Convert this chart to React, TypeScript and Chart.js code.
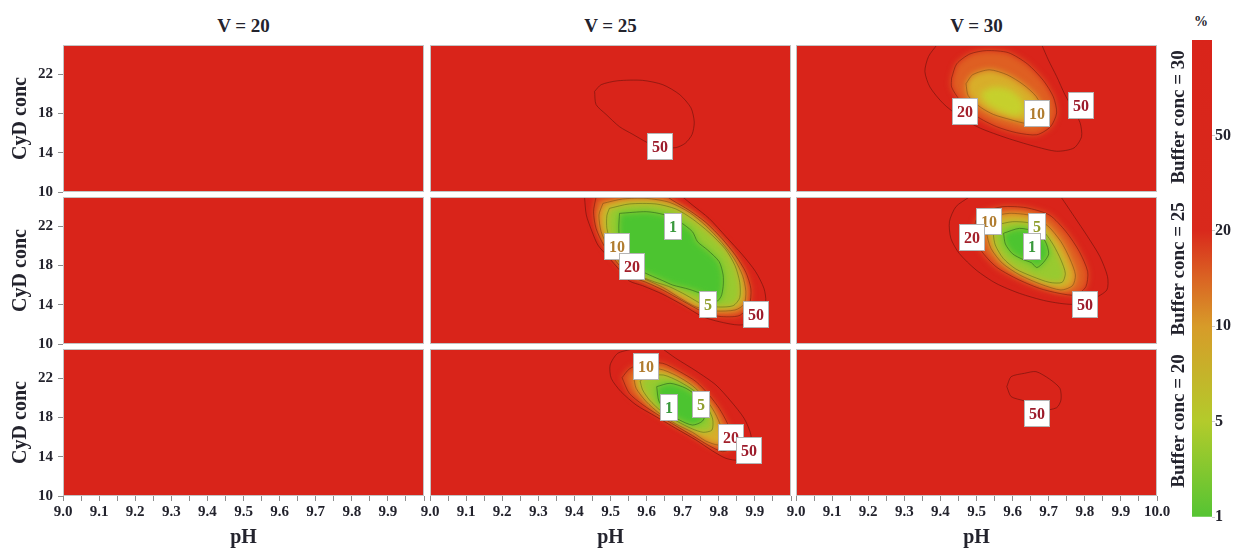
import React, { useEffect, useRef } from 'react';
import { Chart, registerables } from 'chart.js';

Chart.register(...registerables);

// ---------------- data ----------------
const COLUMN_TITLES = ['V = 20', 'V = 25', 'V = 30'];
const ROW_TITLES = ['Buffer conc = 30', 'Buffer conc = 25', 'Buffer conc = 20'];
const X_LABEL = 'pH';
const Y_LABEL = 'CyD conc';
const PH_MIN = 9.0;
const PH_MAX = 10.0;
const CONC_MIN = 10;
const CONC_MAX = 25;
const X_MAJOR_TICKS = [9.0, 9.1, 9.2, 9.3, 9.4, 9.5, 9.6, 9.7, 9.8, 9.9, 10.0];
const Y_TICKS = [10, 14, 18, 22];
const COLORBAR_TICKS = ['1', '5', '10', '20', '50'];
const COLORBAR_STEPS = 5;
const COLORBAR_UNIT = '%';

// Buffer conc = 30, V = 25
const B30_V25_C50 = [[9.456, 20.27], [9.474, 20.95], [9.52, 21.35], [9.589, 21.39], [9.645, 20.95], [9.692, 19.93], [9.723, 18.58], [9.732, 17.13], [9.726, 15.88], [9.707, 14.97], [9.681, 14.53], [9.635, 14.53], [9.599, 15.1], [9.562, 15.88], [9.525, 16.66], [9.488, 17.91], [9.46, 18.92]];
const B30_V25_LABELS: [number, number, string][] = [[9.638, 14.63, '50']];

// Buffer conc = 30, V = 30
const B30_V30_C50 = [[9.39, 25], [9.367, 23.82], [9.357, 22.3], [9.371, 20.71], [9.408, 19.02], [9.454, 17.67], [9.51, 16.52], [9.584, 15.51], [9.657, 14.7], [9.722, 14.16], [9.77, 14.49], [9.791, 15.64], [9.787, 17.06], [9.768, 18.41], [9.745, 19.93], [9.722, 21.79], [9.699, 23.48], [9.681, 25]];
const B30_V30_C20 = [[9.431, 21.62], [9.445, 23.07], [9.482, 24.09], [9.528, 24.43], [9.588, 24.22], [9.641, 23.07], [9.685, 21.39], [9.713, 19.7], [9.722, 18.07], [9.705, 16.66], [9.667, 15.84], [9.611, 16.05], [9.556, 16.66], [9.5, 17.74], [9.454, 19.36], [9.431, 20.71]];
const B30_V30_C10 = [[9.471, 21.05], [9.489, 21.96], [9.536, 22.47], [9.585, 21.96], [9.63, 20.95], [9.665, 19.76], [9.685, 18.24], [9.676, 17.23], [9.639, 16.99], [9.593, 17.4], [9.547, 17.91], [9.51, 18.68], [9.477, 19.83]];
const B30_V30_CORE = [[9.51, 20.1], [9.547, 20.71], [9.593, 20.44], [9.625, 19.43], [9.634, 18.24], [9.607, 17.74], [9.565, 18.24], [9.528, 19.02]];
const B30_V30_LABELS: [number, number, string][] = [[9.468, 18.14, '20'], [9.667, 18.01, '10'], [9.789, 18.82, '50']];

// Buffer conc = 25, V = 25
const B25_V25_C50 = [[9.428, 25], [9.433, 23.16], [9.449, 21.46], [9.465, 20.1], [9.493, 18.91], [9.525, 17.55], [9.552, 16.43], [9.589, 15.95], [9.645, 15.07], [9.7, 13.98], [9.755, 12.79], [9.801, 12.28], [9.856, 11.94], [9.912, 12.35], [9.93, 14.32], [9.925, 15.68], [9.902, 17.38], [9.866, 19.08], [9.82, 20.95], [9.773, 22.82], [9.727, 24.18], [9.7, 25]];
const B25_V25_C20 = [[9.46, 25], [9.453, 23.5], [9.46, 21.8], [9.481, 20.1], [9.516, 18.4], [9.552, 16.97], [9.599, 16.29], [9.645, 15.51], [9.7, 14.39], [9.755, 13.3], [9.801, 12.82], [9.856, 12.89], [9.884, 13.91], [9.889, 15.61], [9.875, 17.31], [9.847, 19.01], [9.81, 20.71], [9.764, 22.41], [9.718, 23.64], [9.672, 24.66], [9.658, 25]];
const B25_V25_C10 = [[9.479, 24.35], [9.534, 24.8], [9.599, 24.86], [9.663, 24.46], [9.718, 23.44], [9.764, 22.07], [9.808, 20.37], [9.843, 18.67], [9.866, 16.97], [9.875, 15.34], [9.87, 14.05], [9.845, 13.47], [9.792, 13.37], [9.737, 13.78], [9.691, 14.73], [9.645, 15.78], [9.599, 16.56], [9.552, 17.31], [9.52, 18.57], [9.493, 19.93], [9.474, 21.46], [9.468, 23.16]];
const B25_V25_C5 = [[9.497, 23.84], [9.552, 24.29], [9.626, 24.29], [9.681, 23.78], [9.727, 22.76], [9.773, 21.39], [9.818, 19.69], [9.845, 17.99], [9.858, 16.29], [9.858, 14.73], [9.84, 13.91], [9.799, 13.78], [9.755, 14.05], [9.709, 15.0], [9.663, 15.85], [9.626, 16.29], [9.589, 16.8], [9.552, 17.45], [9.523, 18.81], [9.502, 20.27], [9.49, 21.8], [9.49, 23.1]];
const B25_V25_C1 = [[9.525, 23.33], [9.599, 23.5], [9.645, 23.23], [9.691, 22.48], [9.727, 21.46], [9.741, 20.44], [9.769, 19.59], [9.801, 18.4], [9.812, 17.04], [9.812, 15.85], [9.806, 14.83], [9.79, 14.25], [9.755, 15.07], [9.718, 15.58], [9.672, 16.02], [9.645, 16.46], [9.608, 17.04], [9.58, 17.55], [9.552, 18.23], [9.539, 18.91], [9.527, 19.83], [9.523, 21.8]];
const B25_V25_LABELS: [number, number, string][] = [[9.672, 21.97, '1'], [9.519, 19.93, '10'], [9.559, 17.89, '20'], [9.769, 13.98, '5'], [9.904, 12.96, '50']];

// Buffer conc = 25, V = 30
const B25_V30_C50 = [[9.48, 25], [9.443, 24.01], [9.425, 22.48], [9.429, 20.78], [9.452, 19.25], [9.499, 17.55], [9.554, 16.19], [9.619, 15.17], [9.693, 14.39], [9.766, 14.05], [9.822, 14.59], [9.861, 15.51], [9.863, 16.87], [9.842, 18.91], [9.808, 20.95], [9.771, 22.99], [9.743, 24.52], [9.734, 25]];
const B25_V30_C20 = [[9.517, 23.5], [9.572, 24.01], [9.637, 23.91], [9.702, 23.16], [9.748, 21.46], [9.785, 19.42], [9.808, 17.38], [9.803, 15.85], [9.776, 15.0], [9.729, 15.17], [9.674, 15.68], [9.609, 16.7], [9.554, 17.89], [9.512, 19.59], [9.494, 21.46], [9.499, 22.65]];
const B25_V30_C10 = [[9.536, 22.99], [9.591, 23.33], [9.651, 23.1], [9.697, 22.07], [9.734, 20.44], [9.759, 18.67], [9.774, 17.04], [9.766, 15.95], [9.734, 15.51], [9.679, 16.09], [9.62, 17.04], [9.572, 18.23], [9.54, 19.76], [9.528, 21.46]];
const B25_V30_C5 = [[9.554, 22.14], [9.6, 22.48], [9.651, 22.31], [9.688, 21.39], [9.713, 20.1], [9.734, 18.57], [9.746, 17.21], [9.737, 16.29], [9.702, 16.29], [9.656, 16.87], [9.609, 17.65], [9.574, 18.74], [9.552, 20.1], [9.547, 21.29]];
const B25_V30_C1 = [[9.575, 21.3], [9.619, 21.8], [9.662, 21.45], [9.69, 20.5], [9.7, 19.2], [9.685, 18.3], [9.667, 17.8], [9.652, 18.3], [9.63, 18.6], [9.6, 19.2], [9.58, 20.2]];
const B25_V30_LABELS: [number, number, string][] = [[9.536, 22.48, '10'], [9.487, 20.78, '20'], [9.668, 21.9, '5'], [9.653, 19.93, '1'], [9.801, 13.95, '50']];

// Buffer conc = 20, V = 25
const B20_V25_C50 = [[9.562, 25], [9.52, 24.56], [9.499, 23.37], [9.502, 22.01], [9.529, 20.65], [9.571, 19.29], [9.626, 18.1], [9.681, 16.9], [9.737, 15.71], [9.783, 14.59], [9.82, 13.84], [9.856, 13.67], [9.886, 14.46], [9.889, 16.22], [9.87, 17.93], [9.833, 19.69], [9.792, 21.33], [9.737, 22.76], [9.681, 24.05], [9.645, 25]];
const B20_V25_C20 = [[9.532, 22.07], [9.552, 22.96], [9.589, 23.54], [9.645, 23.54], [9.692, 22.69], [9.737, 21.67], [9.773, 20.31], [9.801, 18.95], [9.824, 17.41], [9.838, 15.88], [9.833, 14.86], [9.81, 14.52], [9.773, 15.14], [9.727, 16.16], [9.681, 17.17], [9.635, 18.2], [9.589, 19.32], [9.552, 20.48]];
const B20_V25_C10 = [[9.564, 22.18], [9.585, 22.62], [9.635, 22.96], [9.683, 22.28], [9.727, 21.26], [9.764, 19.9], [9.79, 18.44], [9.808, 16.9], [9.816, 15.61], [9.799, 15.2], [9.764, 15.61], [9.727, 16.5], [9.681, 17.35], [9.635, 18.44], [9.599, 19.63], [9.571, 20.99]];
const B20_V25_C5 = [[9.582, 21.73], [9.6, 22.18], [9.646, 22.35], [9.691, 21.67], [9.737, 20.58], [9.766, 19.22], [9.783, 17.86], [9.781, 16.73], [9.757, 16.5], [9.727, 16.84], [9.683, 17.65], [9.64, 18.67], [9.608, 19.8], [9.589, 20.82]];
const B20_V25_C1 = [[9.628, 21.16], [9.665, 21.5], [9.709, 20.99], [9.746, 19.97], [9.764, 18.67], [9.755, 17.65], [9.727, 17.24], [9.691, 17.76], [9.656, 18.61], [9.634, 19.69]];
const B20_V25_LABELS: [number, number, string][] = [[9.597, 23.16, '10'], [9.663, 18.95, '1'], [9.751, 19.29, '5'], [9.835, 15.95, '20'], [9.884, 14.63, '50']];

// Buffer conc = 20, V = 30
const B20_V30_C50 = [[9.584, 21.16], [9.596, 22.18], [9.633, 22.52], [9.665, 22.69], [9.702, 21.94], [9.731, 20.99], [9.734, 19.8], [9.722, 19.01], [9.683, 18.78], [9.633, 19.69], [9.596, 20.14]];
const B20_V30_LABELS: [number, number, string][] = [[9.667, 18.33, '50']];

// ---------------- styling ----------------
const FONT = "'Liberation Serif', 'Times New Roman', serif";
const TEXT = '#23232d';
const RED = '#d9241a';
const FILL_COLORS: Record<string, string | null> = {
  '50': null,
  '20': '#df5f22',
  '10': '#d8ae2a',
  '5': '#98ca30',
  core: '#c6d02c',
  '1': '#4cc430',
};
const LINE_COLORS: Record<string, string> = {
  '50': 'rgba(105,18,12,0.6)',
  '20': 'rgba(110,25,12,0.55)',
  '10': 'rgba(110,70,20,0.5)',
  '5': 'rgba(80,95,20,0.5)',
  '1': 'rgba(35,85,25,0.55)',
};
const LABEL_COLORS: Record<string, string> = {
  '50': '#9c1a2a',
  '20': '#a3202b',
  '10': '#b07c2f',
  '5': '#8f9d2c',
  '1': '#3a993c',
};
const INNER_ORDER = ['1', 'core', '5', '10', '20', '50'];
const COLORBAR_STOPS: [number, string][] = [
  [0, '#55c433'],
  [0.2, '#b3cb2b'],
  [0.4, '#d79b29'],
  [0.5, '#da6423'],
  [0.6, '#d9291c'],
  [1, '#d9241a'],
];

type Contour = { level: string; pts: number[][]; closed: boolean; line?: boolean };
type PanelSpec = { contours: Contour[]; labels: [number, number, string][] };

const PANELS: PanelSpec[][] = [
  [
    { contours: [], labels: [] },
    { contours: [{ level: '50', pts: B30_V25_C50, closed: true }], labels: B30_V25_LABELS },
    {
      contours: [
        { level: '50', pts: B30_V30_C50, closed: false },
        { level: '20', pts: B30_V30_C20, closed: true },
        { level: '10', pts: B30_V30_C10, closed: true },
        { level: 'core', pts: B30_V30_CORE, closed: true, line: false },
      ],
      labels: B30_V30_LABELS,
    },
  ],
  [
    { contours: [], labels: [] },
    {
      contours: [
        { level: '50', pts: B25_V25_C50, closed: false },
        { level: '20', pts: B25_V25_C20, closed: false },
        { level: '10', pts: B25_V25_C10, closed: true },
        { level: '5', pts: B25_V25_C5, closed: true },
        { level: '1', pts: B25_V25_C1, closed: true },
      ],
      labels: B25_V25_LABELS,
    },
    {
      contours: [
        { level: '50', pts: B25_V30_C50, closed: false },
        { level: '20', pts: B25_V30_C20, closed: true },
        { level: '10', pts: B25_V30_C10, closed: true },
        { level: '5', pts: B25_V30_C5, closed: true },
        { level: '1', pts: B25_V30_C1, closed: true },
      ],
      labels: B25_V30_LABELS,
    },
  ],
  [
    { contours: [], labels: [] },
    {
      contours: [
        { level: '50', pts: B20_V25_C50, closed: false },
        { level: '20', pts: B20_V25_C20, closed: true },
        { level: '10', pts: B20_V25_C10, closed: true },
        { level: '5', pts: B20_V25_C5, closed: true },
        { level: '1', pts: B20_V25_C1, closed: true },
      ],
      labels: B20_V25_LABELS,
    },
    { contours: [{ level: '50', pts: B20_V30_C50, closed: true }], labels: B20_V30_LABELS },
  ],
];

// ---------------- layout ----------------
const COL_LEFT = [63, 430, 796];
const PLOT_W = 361;
const ROW_TOP = [45, 197, 349];
const PLOT_H = 147;
const PAGE_W = 1233;
const PAGE_H = 550;
const X_AXIS_H = PAGE_H - (ROW_TOP[2] + PLOT_H);
const BOTTOM_PAD_L = 16;
const BOTTOM_PAD_R = 22;
const LABEL_OVERHANG = 11;

function geometry(r: number, c: number) {
  const padL = c === 0 ? COL_LEFT[0] : r === 2 ? BOTTOM_PAD_L : 0;
  const padR = r === 2 ? BOTTOM_PAD_R : 0;
  const padB = r < 2 && c === 0 ? LABEL_OVERHANG : 0;
  const x = COL_LEFT[c] - padL;
  const w = padL + PLOT_W + padR;
  const y = ROW_TOP[r];
  const h = PLOT_H + (r === 2 ? X_AXIS_H : padB);
  return { x, y, w, h, padL, padR, padB };
}

const toXY = (pts: number[][]) => pts.map(([x, y]) => ({ x, y }));

function buildDatasets(contours: Contour[]) {
  const lineDs = contours
    .filter((c) => c.line !== false)
    .map((c) => ({
      data: toXY(c.closed ? [...c.pts, c.pts[0]] : c.pts),
      showLine: true,
      fill: false,
      borderColor: LINE_COLORS[c.level],
      borderWidth: 1,
      pointRadius: 0,
      pointHoverRadius: 0,
      tension: 0.25,
    }));
  const fillDs = contours
    .filter((c) => FILL_COLORS[c.level])
    .sort((a, b) => INNER_ORDER.indexOf(a.level) - INNER_ORDER.indexOf(b.level))
    .map((c) => ({
      data: toXY([...c.pts, c.pts[0]]),
      showLine: true,
      fill: 'shape',
      backgroundColor: FILL_COLORS[c.level] as string,
      borderColor: 'transparent',
      borderWidth: 1,
      pointRadius: 0,
      pointHoverRadius: 0,
      tension: 0.25,
    }));
  return { datasets: [...lineDs, ...fillDs], fillStart: lineDs.length, fillCount: fillDs.length };
}

const tickFont = { family: FONT, size: 15, weight: 'bold' as const };
const titleFont = { family: FONT, size: 20, weight: 'bold' as const };

function Panel({ r, c }: { r: number; c: number }) {
  const ref = useRef<HTMLCanvasElement>(null);
  const g = geometry(r, c);
  useEffect(() => {
    const spec = PANELS[r][c];
    const { datasets, fillStart, fillCount } = buildDatasets(spec.contours);
    const labels = spec.labels;
    const showX = r === 2;
    const showY = c === 0;
    const xAll: number[] = [];
    X_MAJOR_TICKS.forEach((v, i) => {
      xAll.push(v);
      if (i < X_MAJOR_TICKS.length - 1) xAll.push(Math.round(((v + X_MAJOR_TICKS[i + 1]) / 2) * 1000) / 1000);
    });
    const decor = {
      id: 'panelDecor',
      beforeDraw(chart: any) {
        const { ctx, chartArea: a } = chart;
        ctx.save();
        ctx.fillStyle = RED;
        ctx.fillRect(a.left, a.top, a.right - a.left, a.bottom - a.top);
        ctx.restore();
      },
      beforeDatasetsDraw(chart: any) {
        if (fillCount) {
          chart.ctx.save();
          chart.ctx.filter = 'blur(3px)';
        }
      },
      afterDatasetDraw(chart: any, args: any) {
        if (fillCount && args.index === fillStart) chart.ctx.restore();
      },
      afterDatasetsDraw(chart: any) {
        const { ctx, chartArea: a } = chart;
        const xs = chart.scales.x;
        const ys = chart.scales.y;
        ctx.save();
        ctx.font = `bold 16px ${FONT}`;
        for (const [ph, conc, text] of labels) {
          const px = Math.round(xs.getPixelForValue(ph));
          const py = Math.round(ys.getPixelForValue(conc));
          const tw = ctx.measureText(text).width;
          const w = Math.round(tw + 10);
          const h = 27;
          const bx = px - Math.round(w / 2);
          const by = py - Math.round(h / 2);
          ctx.fillStyle = '#ffffff';
          ctx.fillRect(bx, by, w, h);
          ctx.strokeStyle = 'rgba(150,150,150,0.7)';
          ctx.lineWidth = 1;
          ctx.strokeRect(bx + 0.5, by + 0.5, w - 1, h - 1);
          ctx.fillStyle = LABEL_COLORS[text];
          ctx.textAlign = 'center';
          ctx.textBaseline = 'middle';
          ctx.fillText(text, px, py + 1);
        }
        ctx.strokeStyle = '#c4c4c4';
        ctx.lineWidth = 1;
        ctx.strokeRect(a.left + 0.5, a.top + 0.5, a.right - a.left - 1, a.bottom - a.top - 1);
        ctx.restore();
      },
    };
    const chart = new Chart(ref.current as HTMLCanvasElement, {
      type: 'scatter',
      data: { datasets: datasets as any },
      options: {
        animation: false,
        responsive: false,
        events: [],
        layout: { padding: { left: c === 0 ? 0 : g.padL, right: g.padR, top: 0, bottom: g.padB } },
        plugins: { legend: { display: false }, tooltip: { enabled: false }, title: { display: false } },
        scales: {
          x: {
            type: 'linear',
            position: 'bottom',
            min: PH_MIN,
            max: PH_MAX,
            display: showX,
            afterBuildTicks: (s: any) => {
              s.ticks = xAll.map((v) => ({ value: v }));
            },
            afterFit: (s: any) => {
              s.height = showX ? X_AXIS_H : 0;
              s.paddingLeft = 0;
              s.paddingRight = 0;
            },
            ticks: {
              autoSkip: false,
              maxRotation: 0,
              minRotation: 0,
              padding: 2,
              font: tickFont,
              color: TEXT,
              callback: (v: any) => {
                const val = Number(v);
                const isMajor = X_MAJOR_TICKS.some((m) => Math.abs(m - val) < 1e-6);
                if (!isMajor) return '';
                if (Math.abs(val - PH_MAX) < 1e-6 && c !== 2) return '';
                return val.toFixed(1);
              },
            },
            grid: { display: true, drawOnChartArea: false, drawTicks: true, tickLength: 5, tickColor: '#8c8c8c', tickWidth: 1 },
            border: { display: false },
            title: { display: true, text: X_LABEL, font: titleFont, color: TEXT, padding: { top: 0, bottom: 0 } },
          },
          y: {
            type: 'linear',
            position: 'left',
            min: CONC_MIN,
            max: CONC_MAX,
            display: showY,
            afterBuildTicks: (s: any) => {
              s.ticks = Y_TICKS.map((v) => ({ value: v }));
            },
            afterFit: (s: any) => {
              s.width = showY ? COL_LEFT[0] : 0;
              s.paddingTop = 0;
              s.paddingBottom = 0;
            },
            ticks: { padding: 5, font: tickFont, color: TEXT },
            grid: { display: true, drawOnChartArea: false, drawTicks: true, tickLength: 5, tickColor: '#8c8c8c', tickWidth: 1 },
            border: { display: false },
            title: { display: true, text: Y_LABEL, font: titleFont, color: TEXT, padding: { top: 9, bottom: 0 } },
          },
        },
      } as any,
      plugins: [decor],
    });
    return () => chart.destroy();
  }, [r, c]);
  return (
    <canvas
      ref={ref}
      width={g.w}
      height={g.h}
      style={{ position: 'absolute', left: g.x, top: g.y, width: g.w, height: g.h }}
    />
  );
}

const CB_LEFT = 1185;
const CB_TOP = 30;
const CB_W = 48;
const CB_H = 497;

function ColorBar() {
  const ref = useRef<HTMLCanvasElement>(null);
  useEffect(() => {
    const chart = new Chart(ref.current as HTMLCanvasElement, {
      type: 'bar',
      data: {
        labels: [COLORBAR_UNIT],
        datasets: [
          {
            data: [[0, COLORBAR_STEPS]] as any,
            backgroundColor: (ctx: any) => {
              const ch = ctx.chart;
              const a = ch.chartArea;
              if (!a) return RED;
              const grad = ch.ctx.createLinearGradient(0, a.bottom, 0, a.top);
              COLORBAR_STOPS.forEach(([p, col]) => grad.addColorStop(p, col));
              return grad;
            },
            borderWidth: 0,
            barPercentage: 1,
            categoryPercentage: 1,
          },
        ],
      },
      options: {
        animation: false,
        responsive: false,
        events: [],
        layout: { padding: { left: 7, top: 10, bottom: 10, right: 0 } },
        plugins: { legend: { display: false }, tooltip: { enabled: false } },
        scales: {
          x: { display: false, afterFit: (s: any) => { s.height = 0; } },
          y: {
            position: 'right',
            min: 0,
            max: COLORBAR_STEPS,
            z: 1,
            afterBuildTicks: (s: any) => {
              s.ticks = COLORBAR_TICKS.map((_, i) => ({ value: i }));
            },
            afterFit: (s: any) => {
              s.width = 21;
              s.paddingTop = 0;
              s.paddingBottom = 0;
            },
            ticks: {
              padding: 0,
              font: { family: FONT, size: 16, weight: 'bold' },
              color: TEXT,
              callback: (_v: any, i: number) => COLORBAR_TICKS[i],
            },
            grid: { drawOnChartArea: true, color: 'rgba(255,255,255,0.3)', tickLength: 3, tickColor: 'rgba(200,200,200,0.9)' },
            border: { display: false },
          },
        },
      } as any,
    });
    return () => chart.destroy();
  }, []);
  return (
    <canvas
      ref={ref}
      width={CB_W}
      height={CB_H}
      style={{ position: 'absolute', left: CB_LEFT, top: CB_TOP, width: CB_W, height: CB_H }}
    />
  );
}

const textStyle: React.CSSProperties = {
  position: 'absolute',
  fontFamily: FONT,
  fontWeight: 'bold',
  color: TEXT,
  whiteSpace: 'nowrap',
  lineHeight: 1,
};

export default function App() {
  const cells: React.ReactNode[] = [];
  for (let r = 0; r < 3; r++) for (let c = 0; c < 3; c++) cells.push(<Panel key={`${r}-${c}`} r={r} c={c} />);
  return (
    <div style={{ position: 'absolute', left: 0, top: 0, width: PAGE_W, height: PAGE_H, background: '#fff', overflow: 'hidden' }}>
      {cells}
      <ColorBar />
      {COLUMN_TITLES.map((t, c) => (
        <div key={t} style={{ ...textStyle, fontSize: 19, left: COL_LEFT[c] + PLOT_W / 2, top: 25, transform: 'translate(-50%, -50%)' }}>
          {t}
        </div>
      ))}
      {ROW_TITLES.map((t, r) => (
        <div
          key={t}
          style={{ ...textStyle, fontSize: 19, left: 1177, top: ROW_TOP[r] + PLOT_H / 2 - 2, transform: 'translate(-50%, -50%) rotate(-90deg)' }}
        >
          {t}
        </div>
      ))}
      <div style={{ ...textStyle, fontSize: 14, left: 1201, top: 22, transform: 'translate(-50%, -50%)' }}>{COLORBAR_UNIT}</div>
    </div>
  );
}
